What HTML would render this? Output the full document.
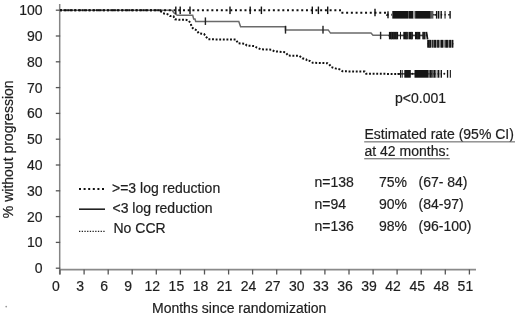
<!DOCTYPE html>
<html><head><meta charset="utf-8"><style>
html,body{margin:0;padding:0;background:#fff;width:520px;height:318px;overflow:hidden}
svg{display:block;filter:blur(0.3px)}
text{font-family:"Liberation Sans",sans-serif;font-size:14px;fill:#1e1e1e;stroke:#1e1e1e;stroke-width:0.2px}
</style></head><body>
<svg width="520" height="318" viewBox="0 0 520 318">
<rect width="520" height="318" fill="#fff"/>
<path d="M59.7,4 V274.5" stroke="#858585" stroke-width="1.5" fill="none"/>
<path d="M59,269.6 H476" stroke="#8a8a8a" stroke-width="1.6" fill="none"/>
<path d="M55.8,268.2 H60.2" stroke="#555" stroke-width="1.3"/>
<text x="42.5" y="273.2" text-anchor="end">0</text>
<path d="M55.8,242.4 H60.2" stroke="#555" stroke-width="1.3"/>
<text x="42.5" y="247.4" text-anchor="end">10</text>
<path d="M55.8,216.6 H60.2" stroke="#555" stroke-width="1.3"/>
<text x="42.5" y="221.6" text-anchor="end">20</text>
<path d="M55.8,190.8 H60.2" stroke="#555" stroke-width="1.3"/>
<text x="42.5" y="195.8" text-anchor="end">30</text>
<path d="M55.8,165.0 H60.2" stroke="#555" stroke-width="1.3"/>
<text x="42.5" y="170.0" text-anchor="end">40</text>
<path d="M55.8,139.2 H60.2" stroke="#555" stroke-width="1.3"/>
<text x="42.5" y="144.2" text-anchor="end">50</text>
<path d="M55.8,113.4 H60.2" stroke="#555" stroke-width="1.3"/>
<text x="42.5" y="118.4" text-anchor="end">60</text>
<path d="M55.8,87.6 H60.2" stroke="#555" stroke-width="1.3"/>
<text x="42.5" y="92.6" text-anchor="end">70</text>
<path d="M55.8,61.8 H60.2" stroke="#555" stroke-width="1.3"/>
<text x="42.5" y="66.8" text-anchor="end">80</text>
<path d="M55.8,36.0 H60.2" stroke="#555" stroke-width="1.3"/>
<text x="42.5" y="41.0" text-anchor="end">90</text>
<path d="M55.8,10.2 H60.2" stroke="#555" stroke-width="1.3"/>
<text x="42.5" y="15.2" text-anchor="end">100</text>
<path d="M60.0,269.5 V274.5" stroke="#555" stroke-width="1.3"/>
<text x="56.0" y="291" text-anchor="middle">0</text>
<path d="M84.1,269.5 V274.5" stroke="#555" stroke-width="1.3"/>
<text x="80.1" y="291" text-anchor="middle">3</text>
<path d="M108.2,269.5 V274.5" stroke="#555" stroke-width="1.3"/>
<text x="104.2" y="291" text-anchor="middle">6</text>
<path d="M132.2,269.5 V274.5" stroke="#555" stroke-width="1.3"/>
<text x="128.2" y="291" text-anchor="middle">9</text>
<path d="M156.3,269.5 V274.5" stroke="#555" stroke-width="1.3"/>
<text x="152.3" y="291" text-anchor="middle">12</text>
<path d="M180.4,269.5 V274.5" stroke="#555" stroke-width="1.3"/>
<text x="176.4" y="291" text-anchor="middle">15</text>
<path d="M204.5,269.5 V274.5" stroke="#555" stroke-width="1.3"/>
<text x="200.5" y="291" text-anchor="middle">18</text>
<path d="M228.6,269.5 V274.5" stroke="#555" stroke-width="1.3"/>
<text x="224.6" y="291" text-anchor="middle">21</text>
<path d="M252.6,269.5 V274.5" stroke="#555" stroke-width="1.3"/>
<text x="248.6" y="291" text-anchor="middle">24</text>
<path d="M276.7,269.5 V274.5" stroke="#555" stroke-width="1.3"/>
<text x="272.7" y="291" text-anchor="middle">27</text>
<path d="M300.8,269.5 V274.5" stroke="#555" stroke-width="1.3"/>
<text x="296.8" y="291" text-anchor="middle">30</text>
<path d="M324.9,269.5 V274.5" stroke="#555" stroke-width="1.3"/>
<text x="320.9" y="291" text-anchor="middle">33</text>
<path d="M349.0,269.5 V274.5" stroke="#555" stroke-width="1.3"/>
<text x="345.0" y="291" text-anchor="middle">36</text>
<path d="M373.1,269.5 V274.5" stroke="#555" stroke-width="1.3"/>
<text x="369.1" y="291" text-anchor="middle">39</text>
<path d="M397.1,269.5 V274.5" stroke="#555" stroke-width="1.3"/>
<text x="393.1" y="291" text-anchor="middle">42</text>
<path d="M421.2,269.5 V274.5" stroke="#555" stroke-width="1.3"/>
<text x="417.2" y="291" text-anchor="middle">45</text>
<path d="M445.3,269.5 V274.5" stroke="#555" stroke-width="1.3"/>
<text x="441.3" y="291" text-anchor="middle">48</text>
<path d="M469.4,269.5 V274.5" stroke="#555" stroke-width="1.3"/>
<text x="465.4" y="291" text-anchor="middle">51</text>
<text x="152" y="312.5">Months since randomization</text>
<text transform="translate(13,149.3) rotate(-90)" text-anchor="middle">% without progression</text>
<path d="M60,10.3 H172 L174,12.9 L177.3,15.3 H192.7 L193.7,19 H195 L195.7,21.4 H238.8 L240.6,26.8 H285.5 V29.9 H328.2 L330.5,33.1 H371 L373,35.3 H427.5" stroke="#6a6a6a" stroke-width="1.5" fill="none"/>
<path d="M60,10.3 H340 V12.7 H387 V14.8 H392" stroke="#111" stroke-width="2" stroke-dasharray="2 2.73" fill="none"/>
<path d="M60,10.2 L160,10.2 L161,11.5 L163,13.3 L167.5,14.1 L170,16 L173.5,16.3 L175,19.3 L178.6,19.8 L185.7,19.8 L188.7,20.6 L190.6,23.4 L191.8,27 L193.7,29.1 L196.8,30.2 L198.7,33.3 L204,34 L205.9,36.6 L208.3,39.3 L236,39.6 L238,43.3 L245.1,43.7 L246.8,45.6 L254.5,46 L256.9,47.7 L260.7,49.3 L271.6,49.7 L274.4,51.3 L285.3,52.2 L286.5,53.5 L288.1,55.6 L299.4,55.8 L302.4,58.3 L306.1,59.4 L307.1,60.8 L309.9,60.9 L312.7,62.8 L327.4,63.2 L329.2,64.2 L331.1,67 L335.4,68.4 L339.7,69.4 L342.5,71.3 L364.7,71.6 L366.1,73.7 L400,74" stroke="#111" stroke-width="2" stroke-dasharray="1.9 1.7" fill="none"/>
<rect x="175.10" y="6.55" width="1.4" height="7.5" fill="#111"/>
<rect x="179.50" y="6.55" width="1.4" height="7.5" fill="#111"/>
<rect x="189.30" y="6.55" width="1.4" height="7.5" fill="#111"/>
<rect x="229.30" y="6.55" width="1.4" height="7.5" fill="#111"/>
<rect x="249.50" y="6.55" width="1.4" height="7.5" fill="#111"/>
<rect x="260.70" y="6.55" width="1.4" height="7.5" fill="#111"/>
<rect x="311.60" y="6.55" width="1.4" height="7.5" fill="#111"/>
<rect x="317.70" y="6.55" width="1.4" height="7.5" fill="#111"/>
<rect x="327.00" y="6.55" width="1.4" height="7.5" fill="#111"/>
<rect x="374.30" y="8.75" width="1.4" height="7.5" fill="#111"/>
<rect x="387.30" y="11.30" width="1.4" height="7" fill="#111"/>
<rect x="204.70" y="17.45" width="1.4" height="7.5" fill="#222"/>
<rect x="284.80" y="25.80" width="1.4" height="7.8" fill="#222"/>
<rect x="322.30" y="25.80" width="1.4" height="7.8" fill="#222"/>
<rect x="379.90" y="31.80" width="1.4" height="7.4" fill="#222"/>
<path d="M433,14.8 H451" stroke="#222" stroke-width="1.6" stroke-dasharray="1.6 2.2" fill="none"/>
<rect x="392.3" y="11.00" width="15.70" height="7.6" fill="#151515"/>
<rect x="409.0" y="11.00" width="4.30" height="7.6" fill="#151515"/>
<rect x="415.1" y="11.00" width="15.70" height="7.6" fill="#151515"/>
<rect x="408.0" y="11.00" width="1.00" height="7.6" fill="#555"/>
<rect x="413.3" y="11.00" width="1.80" height="7.6" fill="#9a9a9a"/>
<rect x="430.8" y="11.00" width="2.60" height="7.6" fill="#5a5a5a"/>
<rect x="437.0" y="11.00" width="1.00" height="7.6" fill="#999"/>
<rect x="439.1" y="11.00" width="1.50" height="7.6" fill="#b0b0b0"/>
<rect x="435.9" y="11.00" width="1.10" height="7.6" fill="#151515"/>
<rect x="438.0" y="11.00" width="1.10" height="7.6" fill="#151515"/>
<rect x="440.6" y="11.00" width="1.30" height="7.6" fill="#151515"/>
<rect x="449.4" y="11.00" width="1.40" height="7.6" fill="#151515"/>
<rect x="444.4" y="11.00" width="1.30" height="7.6" fill="#444"/>
<circle cx="435.4" cy="14.8" r="0.9" fill="#111"/>
<path d="M388,35.6 H427" stroke="#444" stroke-width="1.4" fill="none"/>
<rect x="388.9" y="31.90" width="9.20" height="7.4" fill="#151515"/>
<rect x="400.0" y="31.90" width="1.00" height="7.4" fill="#151515"/>
<rect x="403.3" y="31.90" width="4.60" height="7.4" fill="#151515"/>
<rect x="409.0" y="31.90" width="3.90" height="7.4" fill="#151515"/>
<rect x="415.0" y="31.90" width="5.30" height="7.4" fill="#151515"/>
<rect x="422.3" y="31.90" width="2.90" height="7.4" fill="#151515"/>
<rect x="407.9" y="31.90" width="1.10" height="7.4" fill="#777"/>
<rect x="425.2" y="31.90" width="0.90" height="7.4" fill="#777"/>
<rect x="391.2" y="31.90" width="0.60" height="7.4" fill="#3a3a3a"/>
<rect x="393.6" y="31.90" width="0.60" height="7.4" fill="#3a3a3a"/>
<rect x="395.8" y="31.90" width="0.60" height="7.4" fill="#3a3a3a"/>
<rect x="405.8" y="31.90" width="0.60" height="7.4" fill="#3a3a3a"/>
<rect x="411.0" y="31.90" width="0.60" height="7.4" fill="#3a3a3a"/>
<rect x="417.6" y="31.90" width="0.60" height="7.4" fill="#3a3a3a"/>
<rect x="423.6" y="31.90" width="0.60" height="7.4" fill="#3a3a3a"/>
<path d="M426.4,31.900000000000002 L427.6,39.300000000000004" stroke="#151515" stroke-width="1.7"/>
<path d="M427,43.75 H453.5" stroke="#444" stroke-width="1.4" fill="none"/>
<rect x="427.3" y="39.90" width="26.00" height="7.7" fill="#8a8a8a"/>
<rect x="427.3" y="39.90" width="3.70" height="7.7" fill="#151515"/>
<rect x="432.2" y="39.90" width="1.10" height="7.7" fill="#151515"/>
<rect x="434.1" y="39.90" width="1.90" height="7.7" fill="#151515"/>
<rect x="437.2" y="39.90" width="1.70" height="7.7" fill="#151515"/>
<rect x="440.8" y="39.90" width="2.20" height="7.7" fill="#151515"/>
<rect x="445.4" y="39.90" width="2.50" height="7.7" fill="#151515"/>
<rect x="449.2" y="39.90" width="1.80" height="7.7" fill="#151515"/>
<rect x="451.9" y="39.90" width="1.40" height="7.7" fill="#151515"/>
<rect x="429.1" y="39.90" width="0.50" height="7.7" fill="#444"/>
<path d="M398,73.85 H442" stroke="#222" stroke-width="1.4" fill="none"/>
<rect x="428.3" y="70.00" width="1.50" height="7.7" fill="#555"/>
<rect x="431.8" y="70.00" width="1.90" height="7.7" fill="#555"/>
<rect x="435.6" y="70.00" width="2.00" height="7.7" fill="#bbb"/>
<rect x="439.2" y="70.00" width="1.60" height="7.7" fill="#bbb"/>
<rect x="400.0" y="70.00" width="1.10" height="7.7" fill="#151515"/>
<rect x="401.7" y="70.00" width="1.00" height="7.7" fill="#151515"/>
<rect x="404.3" y="70.00" width="6.50" height="7.7" fill="#151515"/>
<rect x="414.5" y="70.00" width="13.80" height="7.7" fill="#151515"/>
<rect x="429.8" y="70.00" width="2.00" height="7.7" fill="#151515"/>
<rect x="433.7" y="70.00" width="1.90" height="7.7" fill="#151515"/>
<rect x="437.6" y="70.00" width="1.60" height="7.7" fill="#151515"/>
<rect x="440.8" y="70.00" width="1.20" height="7.7" fill="#151515"/>
<rect x="446.9" y="70.00" width="1.10" height="7.7" fill="#151515"/>
<rect x="449.8" y="70.00" width="1.10" height="7.7" fill="#151515"/>
<rect x="448.0" y="70.00" width="1.80" height="7.7" fill="#ccc"/>
<circle cx="412.4" cy="73.85" r="1" fill="#111"/>
<circle cx="444.3" cy="73.85" r="1" fill="#111"/>
<circle cx="398.2" cy="73.85" r="0.9" fill="#111"/>
<circle cx="6.2" cy="306.6" r="0.9" fill="#999"/>
<path d="M79,189 H105" stroke="#111" stroke-width="2" stroke-dasharray="2 2.6"/>
<path d="M79,209.2 H105" stroke="#222" stroke-width="1.6"/>
<path d="M79,231.4 H106" stroke="#222" stroke-width="1.3" stroke-dasharray="1.3 1.4"/>
<text x="112" y="193">&gt;=3 log reduction</text>
<text x="112.5" y="213.4">&lt;3 log reduction</text>
<text x="113.5" y="232.9">No CCR</text>
<text x="395" y="102.6">p&lt;0.001</text>
<text x="364.5" y="139.3">Estimated rate (95% CI)</text>
<text x="364.5" y="156.4">at 42 months:</text>
<rect x="364.2" y="141.3" width="150.8" height="1.1" fill="#6a6a6a"/>
<rect x="364.2" y="158.2" width="85.6" height="1.1" fill="#6a6a6a"/>
<text x="314.5" y="186.7">n=138</text>
<text x="379" y="186.7">75%</text>
<text x="418.5" y="186.7">(67- 84)</text>
<text x="314.5" y="209.2">n=94</text>
<text x="379" y="209.2">90%</text>
<text x="418.5" y="209.2">(84-97)</text>
<text x="314.5" y="231.2">n=136</text>
<text x="379" y="231.2">98%</text>
<text x="418.5" y="231.2">(96-100)</text>
</svg>
</body></html>
